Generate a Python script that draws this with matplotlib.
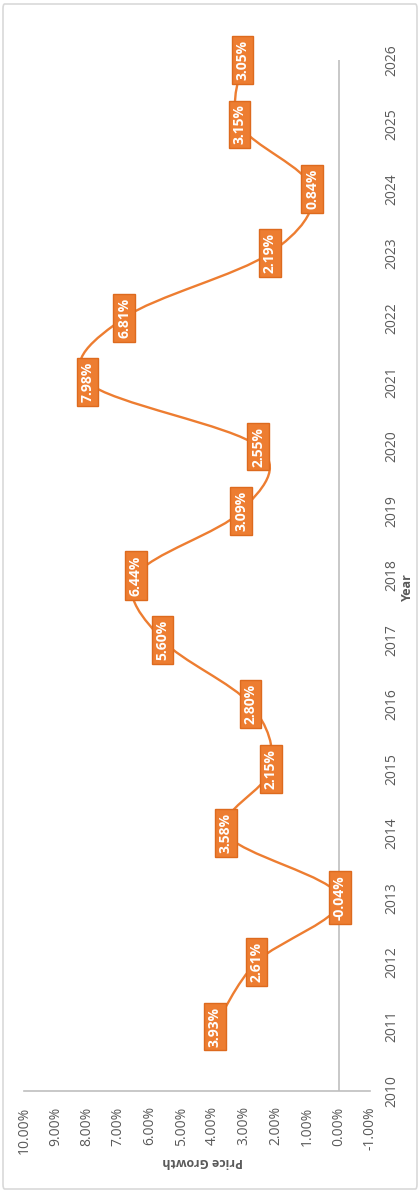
import matplotlib
matplotlib.use("Agg")
import matplotlib.pyplot as plt
from matplotlib.path import Path
from matplotlib.patches import PathPatch, FancyBboxPatch
import numpy as np

years = [2011, 2012, 2013, 2014, 2015, 2016, 2017, 2018,
         2019, 2020, 2021, 2022, 2023, 2024, 2025, 2026]
growth = [3.93, 2.61, -0.04, 3.58, 2.15, 2.80, 5.60, 6.44,
          3.09, 2.55, 7.98, 6.81, 2.19, 0.84, 3.15, 3.05]
year_ticks = list(range(2010, 2027))
growth_ticks = list(range(-1, 11))

ORANGE = "#ED7D31"
GRAY_TXT = "#595959"
GRAY_LINE = "#BFBFBF"
FONT = "Open Sans"

fig = plt.figure(figsize=(4.2, 11.92), dpi=100)
W, H = 420, 1192

# outer chart frame
fig.patches.append(FancyBboxPatch((3 / W, 3 / H), 414 / W, 1185 / H,
                                  boxstyle="round,pad=0,rounding_size=0.004",
                                  transform=fig.transFigure, fc="none",
                                  ec="#D9D9D9", lw=1.2, zorder=0))

left, right = 24 / W, 370 / W
bottom, top = 1 - 1091 / H, 1 - 60 / H
ax = fig.add_axes([left, bottom, right - left, top - bottom])
ax.set_facecolor("none")

# value axis runs right-to-left, years bottom-to-top
ax.set_xlim(10, -1)
ax.set_ylim(2010, 2026)

for side in ("top", "left", "right"):
    ax.spines[side].set_visible(False)
ax.spines["bottom"].set_color(GRAY_LINE)
ax.spines["bottom"].set_linewidth(1.2)
ax.axvline(0, color=GRAY_LINE, lw=1.2, zorder=1)

ax.set_xticks(growth_ticks)
ax.set_xticklabels([f"{v:.2f}%" for v in growth_ticks], rotation=90,
                   fontsize=10, color=GRAY_TXT, family=FONT)
ax.tick_params(axis="x", length=0, pad=11)

ax.yaxis.tick_right()
ax.set_yticks(year_ticks)
ax.set_yticklabels([str(y) for y in year_ticks], rotation=90, va="center",
                   fontsize=10, color=GRAY_TXT, family=FONT)
ax.tick_params(axis="y", length=0, pad=10)

# smoothed line through the points (Catmull-Rom as cubic Beziers)
pts = np.column_stack([growth, years]).astype(float)
n = len(pts)
verts = [tuple(pts[0])]
codes = [Path.MOVETO]
for i in range(n - 1):
    p0 = pts[i - 1] if i > 0 else pts[i]
    p1 = pts[i]
    p2 = pts[i + 1]
    p3 = pts[i + 2] if i + 2 < n else pts[i + 1]
    c1 = p1 + (p2 - p0) / 6.0
    c2 = p2 - (p3 - p1) / 6.0
    verts += [tuple(c1), tuple(c2), tuple(p2)]
    codes += [Path.CURVE4] * 3
ax.add_patch(PathPatch(Path(verts, codes), fc="none", ec=ORANGE, lw=1.7,
                       transform=ax.transData, zorder=3, capstyle="round",
                       joinstyle="round"))

# value labels on every point
for y, v in zip(years, growth):
    ax.text(v, y, f"{v:.2f}%", rotation=90, ha="center", va="center",
            fontsize=10, fontweight="bold", color="white", family=FONT,
            zorder=5,
            bbox=dict(boxstyle="square,pad=0.28", fc=ORANGE, ec="#DD6A1E",
                      lw=1.0))

fig.text(203 / W, 1 - 1162 / H, "Price Growth", rotation=180, ha="center",
         va="center", fontsize=9, fontweight="bold", color=GRAY_TXT,
         family=FONT)
fig.text(407 / W, 1 - 587 / H, "Year", rotation=90, ha="center",
         va="center", fontsize=9, fontweight="bold", color=GRAY_TXT,
         family=FONT)

fig.savefig("out.png", dpi=100)
